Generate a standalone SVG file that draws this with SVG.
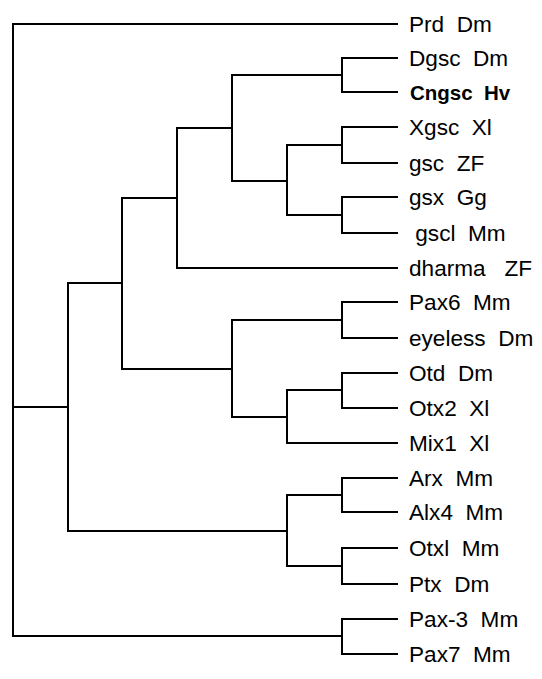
<svg xmlns="http://www.w3.org/2000/svg" width="542" height="679" viewBox="0 0 542 679">
<style>
.c{fill:none;stroke:#000;stroke-width:2;stroke-linecap:square}
.t{font-family:"Liberation Sans",Arial,sans-serif;font-size:22.6px;fill:#000;white-space:pre}
.b{font-weight:bold;font-size:20.5px}
</style>
<rect width="542" height="679" fill="#fff"/>
<g id="connectors" class="c">
<path d="M13 24V636M13 24H397M13 407H68M13 636H342"/>
<path d="M342 619V654M342 619H397M342 654H397"/>
<path d="M68 283V531M68 283H122M68 531H287"/>
<path d="M122 198V369M122 198H177M122 369H232"/>
<path d="M177 128V268M177 128H232M177 268H397"/>
<path d="M232 75V181M232 75H342M232 181H287"/>
<path d="M342 58V92M342 58H397M342 92H397"/>
<path d="M287 145V215M287 145H342M287 215H342"/>
<path d="M342 127V163M342 127H397M342 163H397"/>
<path d="M342 197V233M342 197H397M342 233H397"/>
<path d="M232 320V417M232 320H342M232 417H287"/>
<path d="M342 302V338M342 302H397M342 338H397"/>
<path d="M287 390V443M287 390H342M287 443H397"/>
<path d="M342 373V408M342 373H397M342 408H397"/>
<path d="M287 495V566M287 495H342M287 566H342"/>
<path d="M342 478V512M342 478H397M342 512H397"/>
<path d="M342 548V584M342 548H397M342 584H397"/>
</g>
<g id="leaf-prd"><text class="t" x="409" y="31.5">Prd  Dm</text></g>
<g id="leaf-dgsc"><text class="t" x="409" y="65.5">Dgsc  Dm</text></g>
<g id="leaf-cngsc"><text class="t b" x="410" y="100">Cngsc  Hv</text></g>
<g id="leaf-xgsc"><text class="t" x="409" y="134.5">Xgsc  Xl</text></g>
<g id="leaf-gsc"><text class="t" x="409" y="170.5">gsc  ZF</text></g>
<g id="leaf-gsx"><text class="t" x="409" y="204.5">gsx  Gg</text></g>
<g id="leaf-gscl"><text class="t" x="409" y="240.5"> gscl  Mm</text></g>
<g id="leaf-dharma"><text class="t" x="409" y="275.5">dharma   ZF</text></g>
<g id="leaf-pax6"><text class="t" x="409" y="309.5">Pax6  Mm</text></g>
<g id="leaf-eyeless"><text class="t" x="409" y="345.5">eyeless  Dm</text></g>
<g id="leaf-otd"><text class="t" x="409" y="380.5">Otd  Dm</text></g>
<g id="leaf-otx2"><text class="t" x="409" y="415.5">Otx2  Xl</text></g>
<g id="leaf-mix1"><text class="t" x="409" y="450.5">Mix1  Xl</text></g>
<g id="leaf-arx"><text class="t" x="409" y="485.5">Arx  Mm</text></g>
<g id="leaf-alx4"><text class="t" x="409" y="519.5">Alx4  Mm</text></g>
<g id="leaf-otxl"><text class="t" x="409" y="555.5">Otxl  Mm</text></g>
<g id="leaf-ptx"><text class="t" x="409" y="591.5">Ptx  Dm</text></g>
<g id="leaf-pax3"><text class="t" x="409" y="626.5">Pax-3  Mm</text></g>
<g id="leaf-pax7"><text class="t" x="409" y="661.5">Pax7  Mm</text></g>
</svg>
